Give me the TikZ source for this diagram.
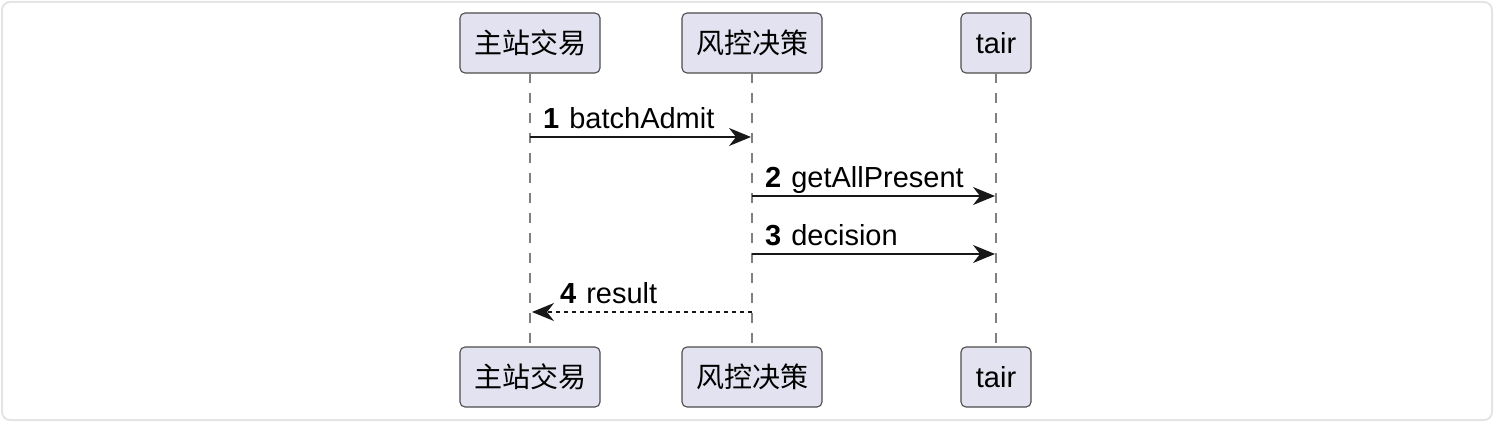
\documentclass[tikz,border=0pt]{standalone}
\usepackage{fontspec}
\setmainfont{Liberation Sans}
\newfontfamily\cjk{Noto Sans CJK SC}
\usepackage{tikz}
\usetikzlibrary{arrows.meta,positioning}
\definecolor{boxfill}{HTML}{E2E2F0}
\definecolor{lineink}{HTML}{181818}
\definecolor{framegray}{HTML}{E4E4E4}

\begin{document}
\begin{tikzpicture}[x=1bp,y=1bp,
      part_box/.style={
         rectangle,
         rounded corners=5bp,
         draw=black!70,
         fill=boxfill,
         line width=1.1bp,
         inner sep=0pt,
         outer sep=0pt,
         minimum width=140bp,
         minimum height=60bp,
         font=\fontsize{28bp}{32bp}\selectfont},
       life_line/.style={
         draw=black!50,
         line width=1.1bp,
         dash pattern=on 10bp off 10bp,
         },
       arrow_msg/.style={
         -{Stealth[length=22bp,width=18bp,inset=7bp]},
         draw=lineink,
         line width=1.5bp,
         },
       arrow_ret/.style={
         arrow_msg,
         dash pattern=on 4bp off 4bp,
         },
       msg_label/.style={
         anchor=base west,
         inner sep=0pt,
         font=\fontsize{29bp}{33bp}\selectfont}
]
      \useasboundingbox (0,0) rectangle (1494,422);
      \draw[framegray, line width=2bp, rounded corners=8bp] (2,2) rectangle (1492,420);

      %participants
      \node[part_box] (zs) at (530,379) {\cjk 主站交易};
      \node[part_box,right=82bp of zs] (fk) {\cjk 风控决策};
      \node[part_box,minimum width=70bp,right=139bp of fk,font=\fontsize{29bp}{33bp}\selectfont] (ta) {tair};

      \node[part_box,below=274bp of zs] (zsb) {\cjk 主站交易};
      \node[part_box,below=274bp of fk] (fkb) {\cjk 风控决策};
      \node[part_box,minimum width=70bp,below=274bp of ta,font=\fontsize{29bp}{33bp}\selectfont] (tab) {tair};

      \foreach \i/\j in {zs/zsb, fk/fkb, ta/tab}
        \draw[life_line] (\i.south) -- (\j.north);

    \foreach \a/\b/\y/\n/\txt in {% from/to/height/number/text
      zs/fk/285/1/batchAdmit,
      fk/ta/226/2/getAllPresent,
      fk/ta/168/3/decision}
    {
      \coordinate (s\n) at (\a |- 0,\y);
      \coordinate (t\n) at (\b |- 0,\y);
      \draw[arrow_msg] (s\n) -- ([xshift=-1bp]t\n);
      \node[msg_label] (l\n) at ([shift={(13,9)}]s\n) {\textbf{\n}\hspace{10bp}\txt};
    }

      %reply
      \coordinate (s4) at (fk |- 0,110);
      \coordinate (t4) at (zs |- 0,110);
      \draw[arrow_ret] (s4) -- ([xshift=2bp]t4);
      \node[msg_label] (l4) at ([shift={(30,9)}]t4) {\textbf{4}\hspace{10bp}result};

\end{tikzpicture}
\end{document}
